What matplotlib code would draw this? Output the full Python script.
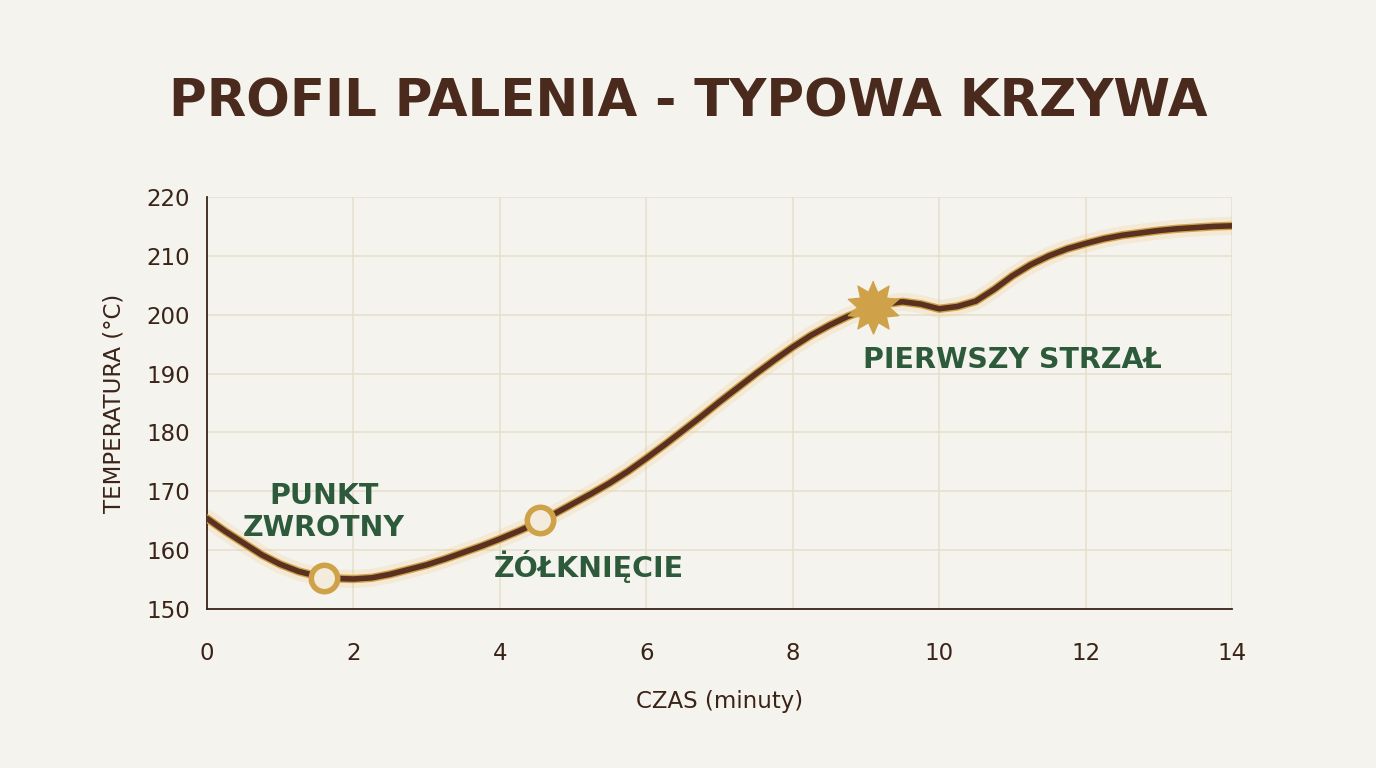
import numpy as np
import matplotlib.pyplot as plt

# Profil palenia (co 0.25 min)
czas = [0, 0.25, 0.5, 0.75, 1.0, 1.25, 1.5, 1.75, 2.0, 2.25, 2.5, 2.75, 3.0, 3.25,
        3.5, 3.75, 4.0, 4.25, 4.5, 4.75, 5.0, 5.25, 5.5, 5.75, 6.0, 6.25, 6.5, 6.75,
        7.0, 7.25, 7.5, 7.75, 8.0, 8.25, 8.5, 8.75, 9.0, 9.25, 9.5, 9.75, 10.0, 10.25,
        10.5, 10.75, 11.0, 11.25, 11.5, 11.75, 12.0, 12.25, 12.5, 12.75, 13.0, 13.25,
        13.5, 13.75, 14.0]
temp = [165.4, 163.2, 161.2, 159.2, 157.6, 156.4, 155.6, 155.2, 155.1, 155.3, 155.9,
        156.7, 157.5, 158.5, 159.6, 160.7, 161.9, 163.2, 164.6, 166.2, 167.9, 169.6,
        171.4, 173.4, 175.6, 177.9, 180.3, 182.7, 185.2, 187.6, 190.0, 192.3, 194.5,
        196.5, 198.2, 199.7, 200.9, 201.8, 202.2, 201.8, 201.0, 201.4, 202.3, 204.3,
        206.6, 208.5, 210.0, 211.2, 212.1, 212.9, 213.5, 213.9, 214.3, 214.6, 214.8,
        215.0, 215.1]

punkty_x = [1.6, 4.55]
punkty_y = [155.3, 165.1]
strzal_x = [9.1]
strzal_y = [201.3]

etykiety = ["PUNKT\nZWROTNY", "ŻÓŁKNIĘCIE", "PIERWSZY STRZAŁ"]
etykiety_x = [1.6, 5.22, 11.0]
etykiety_y = [166.5, 157.3, 192.3]

x_ticks = [0, 2, 4, 6, 8, 10, 12, 14]
y_ticks = [150, 160, 170, 180, 190, 200, 210, 220]

bg = '#f5f3ee'
brown = '#5a3020'
gold = '#cfa24a'
green = '#2c5a3a'
text_col = '#3a2418'

# 10-ramienna gwiazda
kat = np.linspace(np.pi / 2, np.pi / 2 + 2 * np.pi, 21)[:-1]
r = np.where(np.arange(20) % 2 == 0, 1.0, 0.6)
gwiazda = np.column_stack([r * np.cos(kat), r * np.sin(kat)])

fig = plt.figure(figsize=(13.76, 7.68), dpi=100, facecolor=bg)
ax = fig.add_axes([0.1504, 0.207, 0.745, 0.5365])
ax.set_facecolor(bg)

# glow + line
ax.plot(czas, temp, color='#f0c878', lw=13, alpha=0.22, solid_capstyle='round', zorder=2)
ax.plot(czas, temp, color=gold, lw=6.0, solid_capstyle='round', zorder=3)
ax.plot(czas, temp, color=brown, lw=4.0, solid_capstyle='round', zorder=4)

ax.plot(punkty_x, punkty_y, 'o', ms=19, mfc='#f3ecdc', mec=gold, mew=4.0, zorder=5)
ax.plot(strzal_x, strzal_y, marker=gwiazda, ms=38, color=gold, mec=gold, lw=0, zorder=5)

for t, x, y in zip(etykiety, etykiety_x, etykiety_y):
    ax.text(x, y, t, ha='center', va='center', color=green, fontsize=20.5,
            fontweight='bold', linespacing=1.2, zorder=6)

ax.set_xlim(0, 14)
ax.set_ylim(150, 220)
ax.set_xticks(x_ticks)
ax.set_yticks(y_ticks)
ax.grid(True, color='#e7e0cf', lw=1.2)
ax.set_axisbelow(True)
for s in ['top', 'right']:
    ax.spines[s].set_visible(False)
for s in ['left', 'bottom']:
    ax.spines[s].set_color(text_col)
    ax.spines[s].set_linewidth(1.3)
ax.tick_params(length=0, labelsize=16.5, colors=text_col)
ax.tick_params(axis='x', pad=24)
ax.tick_params(axis='y', pad=12)

ax.set_xlabel('CZAS (minuty)', fontsize=16.5, color=text_col, labelpad=18)
ax.set_ylabel('TEMPERATURA (°C)', fontsize=16.5, color=text_col, labelpad=15)

fig.text(0.5, 0.866, 'PROFIL PALENIA - TYPOWA KRZYWA', ha='center', va='center',
         fontsize=37, fontweight='bold', color='#4a2a1c')

fig.savefig('out.png', dpi=100, facecolor=bg)
